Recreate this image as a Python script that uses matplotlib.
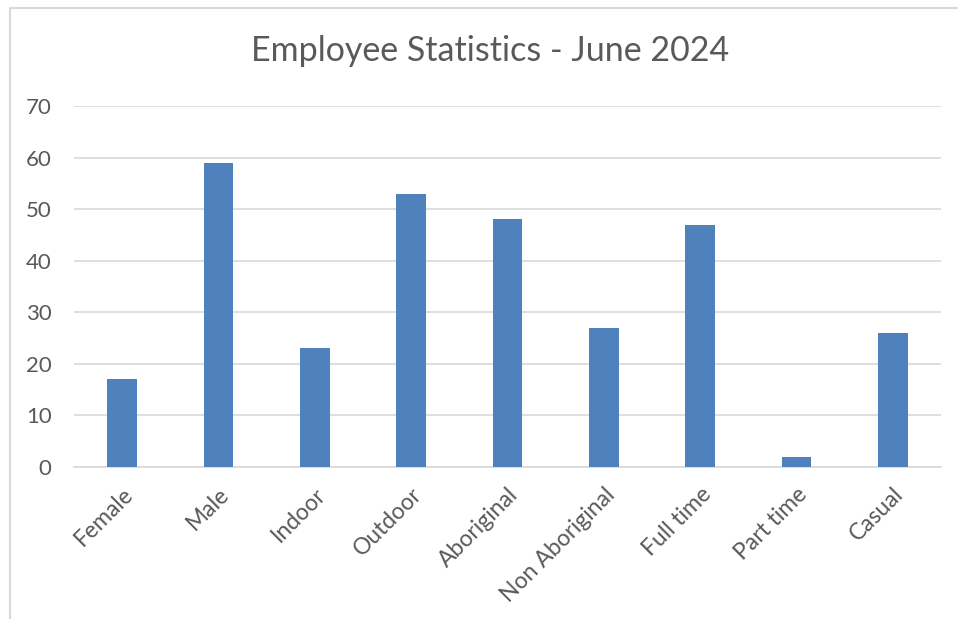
import matplotlib.pyplot as plt
from matplotlib.lines import Line2D

# Data
categories = ['Female', 'Male', 'Indoor', 'Outdoor', 'Aboriginal',
              'Non Aboriginal', 'Full time', 'Part time', 'Casual']
counts = [17, 59, 23, 53, 48, 27, 47, 2, 26]
yticks = [0, 10, 20, 30, 40, 50, 60, 70]

txt = '#595959'
plt.rcParams['font.family'] = ['Lato', 'DejaVu Sans']

fig = plt.figure(figsize=(9.58, 6.19), dpi=100)
ax = fig.add_axes([0.0772, 0.2456, 0.9051, 0.5832])

# chart border (only top and left edges show in the crop)
bx, by = 10 / 958, 1 - 8 / 619
fig.lines.append(Line2D([bx, bx, 1.0], [0, by, by], transform=fig.transFigure,
                        color='#D9D9D9', linewidth=1.5))

x = range(len(categories))
ax.bar(x, counts, width=0.31, color='#4F81BD', zorder=3)

ax.set_xlim(-0.5, len(categories) - 0.5)
ax.set_ylim(0, 70)
ax.set_yticks(yticks)
ax.yaxis.grid(True, color='#D9D9D9', linewidth=1.2, zorder=0)
for s in ['top', 'right', 'left']:
    ax.spines[s].set_visible(False)
ax.spines['bottom'].set_color('#D9D9D9')
ax.spines['bottom'].set_linewidth(1.2)

ax.set_xticks(list(x))
ax.set_xticklabels(categories, rotation=45, ha='right', rotation_mode='anchor',
                   fontsize=16.5, color=txt)
ax.tick_params(axis='both', length=0, labelcolor=txt)
ax.tick_params(axis='y', pad=16, labelsize=16)
ax.tick_params(axis='x', pad=12)

fig.text(490 / 958, 1 - 51 / 619, 'Employee Statistics - June 2024', ha='center',
         va='center', fontsize=24.5, color=txt)

fig.savefig('out.png', dpi=100)
